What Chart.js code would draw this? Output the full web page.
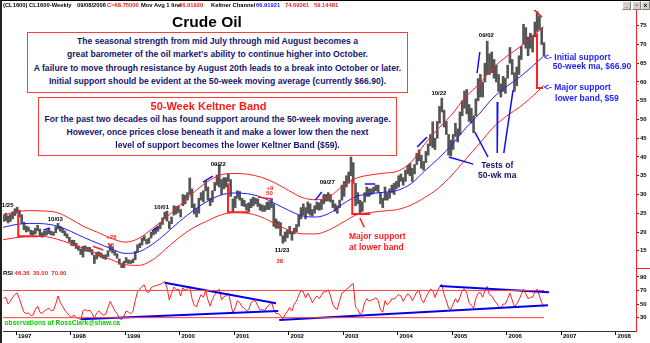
<!DOCTYPE html>
<html lang="en">
<head>
<meta charset="utf-8">
<title>Crude Oil</title>
<script src="https://cdn.jsdelivr.net/npm/chart.js@4.4.1/dist/chart.umd.min.js"></script>
<style>
  html, body { margin: 0; padding: 0; background: #fff; }
  #quadro { position: relative; width: 650px; height: 343px; overflow: hidden; background: #fff;
            font-family: 'Liberation Sans', Arial, sans-serif; font-weight: bold; }
  #grafico { position: absolute; left: 0; top: 0; }
  .abs { position: absolute; white-space: nowrap; }
  .cab { top: 1px; font-size: 5.8px; line-height: 9px; color: #000; }
  .verm { color: #ff1a1a; }
  .azul { color: #1a1aff; }
  #titulo { left: 0; width: 414px; top: 13px; text-align: center; font-size: 15.5px; line-height: 18px; color: #000; }
  .caixa { position: absolute; box-sizing: border-box; border: 1px solid #ff3c3c; background: #fff;
           text-align: center; color: #16166e; font-size: 8.6px; white-space: nowrap; }
  #caixa1 { left: 27px; top: 32px; width: 381px; height: 61px; padding-top: 2px; line-height: 13.4px; }
  #caixa2 { left: 38px; top: 97px; width: 359px; height: 59px; padding-top: 1px; line-height: 13px; }
  #caixa2 .tit { color: #ff1a1a; font-size: 11px; line-height: 14px; position: relative; left: -9px; }
  #caixa2 .ult { position: relative; left: 10px; }
  .borda-esq { left: 0; top: 0; width: 2px; height: 343px; background: #222; }
  .borda-topo { left: 0; top: 0; width: 650px; height: 1px; background: #000; }
  .botao { top: 1px; width: 7px; height: 7px; background: #d4d0c8; border: 1px solid;
           border-color: #fff #808080 #808080 #fff; font-size: 6px; line-height: 7px; text-align: center; color: #000; }
</style>
</head>
<body>
<div id="quadro">
  <canvas id="grafico" width="650" height="343"></canvas>

  <div class="abs borda-topo"></div>
  <div class="abs borda-esq"></div>

  <span class="abs cab" style="left:3px">(CL1600) CL1600-Weekly</span>
  <span class="abs cab" style="left:77px">09/08/2006</span>
  <span class="abs cab verm" style="left:107px">C=68.75000</span>
  <span class="abs cab" style="left:141px">Mov Avg 1 line</span>
  <span class="abs cab verm" style="left:179px">66.91920</span>
  <span class="abs cab" style="left:211px">Keltner Channel</span>
  <span class="abs cab azul" style="left:256px">66.91921</span>
  <span class="abs cab verm" style="left:285px">74.69361</span>
  <span class="abs cab verm" style="left:314px">59.14481</span>

  <div class="abs botao" style="left:622px">_</div>
  <div class="abs botao" style="left:632px">&#9643;</div>
  <div class="abs botao" style="left:641px">x</div>

  <div class="abs" id="titulo">Crude Oil</div>

  <div class="caixa" id="caixa1">
    <div>The seasonal strength from mid July through mid August becomes a</div>
    <div>great barometer of the oil market's ability to continue higher into October.</div>
    <div>A failure to move through resistance by August 20th leads to a break into October or later.</div>
    <div>Initial support should be evident at the 50-week moving average (currently $66.90).</div>
  </div>

  <div class="caixa" id="caixa2">
    <div class="tit">50-Week Keltner Band</div>
    <div>For the past two decades oil has found support around the 50-week moving average.</div>
    <div>However, once prices close beneath it and make a lower low then the next</div>
    <div class="ult">level of support becomes the lower Keltner Band ($59).</div>
  </div>
</div>

<script>
// Barras quinzenais (mínima / máxima), de out/1996 a set/2006, uma linha por ano
const precoMin = [
  22.8, 23.0, 22.4, 22.8, 23.5, 24.4,
  25.0, 24.0, 22.3, 20.6, 20.0, 20.2, 19.3, 19.2, 19.5, 20.3, 18.9, 18.6, 19.0, 19.2, 19.5, 19.2, 19.1, 19.8, 20.8, 20.2, 19.8, 19.0, 18.4, 17.3,
  16.4, 16.3, 15.6, 15.1, 14.0, 13.3, 14.9, 14.8, 14.7, 13.9, 11.6, 12.8, 13.5, 13.2, 12.9, 12.7, 13.5, 14.9, 14.4, 13.8, 13.0, 11.4, 10.5, 10.4,
  11.8, 11.6, 11.6, 11.8, 12.6, 14.6, 15.8, 16.5, 17.7, 16.8, 17.0, 18.4, 19.2, 19.6, 20.2, 20.9, 22.0, 23.5, 22.9, 20.9, 22.2, 24.5, 24.8, 25.2,
  24.0, 27.0, 27.5, 28.5, 30.0, 26.5, 24.8, 24.0, 25.0, 28.5, 28.0, 31.0, 28.5, 27.0, 28.0, 31.0, 32.5, 32.0, 30.0, 31.5, 32.0, 33.5, 29.5, 25.5,
  26.5, 29.0, 28.5, 27.0, 26.8, 25.8, 25.3, 26.5, 27.0, 27.5, 26.8, 25.8, 25.5, 25.5, 26.0, 26.0, 26.5, 21.5, 21.0, 21.0, 19.0, 17.0, 17.5, 18.5,
  19.5, 17.8, 19.5, 20.0, 21.5, 23.5, 24.5, 23.5, 25.0, 24.5, 24.2, 25.0, 26.0, 25.8, 26.0, 27.5, 28.2, 28.3, 28.0, 26.5, 25.5, 25.0, 26.5, 28.5,
  29.5, 32.0, 33.0, 35.0, 33.0, 27.0, 27.5, 25.0, 25.5, 28.0, 29.5, 29.5, 30.0, 30.5, 31.0, 30.5, 27.5, 26.5, 28.5, 28.5, 29.0, 30.5, 30.0, 31.5,
  32.0, 33.5, 32.5, 33.5, 35.5, 35.0, 33.5, 35.5, 38.0, 39.0, 37.0, 36.5, 38.5, 40.5, 43.0, 42.5, 42.0, 45.0, 49.0, 52.0, 48.0, 46.0, 40.5, 40.3,
  42.0, 45.5, 44.0, 46.0, 51.0, 53.0, 51.5, 49.5, 49.0, 46.5, 51.0, 55.0, 56.0, 56.0, 60.0, 62.0, 62.0, 62.5, 61.0, 60.0, 57.5, 56.0, 57.5, 57.0,
  61.0, 65.0, 62.0, 57.5, 59.0, 62.0, 66.0, 70.0, 69.0, 67.0, 69.0, 68.0, 72.0, 73.5, 74.0, 70.0, 67.0
];
const precoMax = [
  24.6, 25.0, 24.3, 24.7, 25.4, 26.2,
  26.6, 25.8, 24.6, 22.6, 21.6, 21.3, 20.5, 20.3, 21.0, 21.8, 20.8, 19.8, 20.2, 20.4, 20.8, 20.2, 20.0, 21.4, 22.3, 21.5, 21.0, 20.3, 19.5, 18.6,
  17.8, 17.8, 17.0, 16.3, 15.5, 16.2, 16.3, 15.9, 15.9, 15.3, 13.8, 14.6, 14.7, 14.4, 13.9, 13.9, 15.0, 16.6, 16.0, 14.9, 14.2, 12.8, 11.6, 12.2,
  13.2, 12.6, 12.4, 12.8, 14.8, 16.6, 17.0, 18.4, 19.0, 18.0, 18.4, 20.0, 20.5, 21.0, 21.6, 22.4, 23.8, 25.3, 25.6, 22.8, 24.0, 27.0, 26.8, 27.0,
  26.0, 30.0, 29.8, 30.5, 34.4, 31.5, 27.5, 26.3, 29.0, 30.5, 31.0, 33.5, 32.0, 29.0, 31.0, 33.2, 35.2, 37.9, 34.0, 34.5, 34.5, 35.5, 34.0, 28.8,
  29.5, 31.0, 30.8, 29.0, 28.5, 27.5, 27.8, 28.8, 29.3, 29.0, 28.8, 27.5, 27.2, 27.0, 28.0, 28.0, 29.0, 27.5, 23.5, 22.8, 22.5, 19.0, 20.0, 20.5,
  21.5, 20.0, 21.0, 22.0, 24.5, 26.5, 27.5, 26.5, 28.0, 27.5, 26.0, 27.0, 28.0, 27.8, 28.5, 30.0, 30.0, 30.5, 30.0, 28.5, 27.5, 27.0, 28.5, 32.5,
  33.5, 35.0, 36.0, 40.0, 38.5, 33.0, 30.5, 28.5, 28.0, 30.5, 32.0, 31.5, 31.5, 32.0, 32.5, 32.5, 30.5, 29.0, 32.0, 30.5, 31.5, 32.5, 33.0, 33.5,
  35.0, 35.5, 34.5, 36.5, 37.8, 38.3, 37.0, 38.0, 41.0, 41.9, 40.5, 38.8, 41.5, 43.5, 46.0, 49.4, 45.0, 49.5, 53.5, 55.7, 52.5, 49.5, 46.0, 44.5,
  46.0, 49.0, 47.5, 52.0, 55.0, 57.6, 58.0, 54.0, 53.0, 51.0, 55.5, 60.9, 62.0, 60.0, 65.0, 70.9, 67.5, 68.0, 66.0, 64.5, 62.0, 59.5, 61.5, 61.0,
  64.5, 69.2, 66.0, 62.5, 64.0, 67.0, 69.5, 75.4, 74.5, 72.0, 73.0, 72.5, 76.0, 78.8, 77.5, 74.5, 70.5
];
const rsiQuinzena = [
  58, 60, 50, 54, 60, 64,
  66, 58, 47, 38, 36, 37, 33, 34, 42, 47, 38, 36, 40, 42, 44, 40, 41, 50, 62, 52, 47, 41, 37, 33,
  31, 34, 30, 29, 27, 40, 42, 40, 41, 36, 29, 37, 40, 36, 34, 35, 45, 54, 47, 40, 36, 29, 27, 32,
  40, 38, 36, 39, 55, 68, 72, 76, 78, 68, 67, 74, 76, 77, 78, 79, 81, 83, 74, 56, 66, 75, 71, 72,
  62, 74, 70, 72, 76, 58, 48, 46, 56, 64, 60, 70, 56, 47, 57, 64, 68, 72, 56, 61, 62, 66, 52, 37,
  44, 55, 52, 46, 44, 40, 42, 52, 55, 54, 47, 41, 42, 40, 46, 48, 53, 42, 36, 36, 33, 28, 35, 39,
  45, 40, 50, 54, 63, 70, 68, 59, 66, 60, 52, 58, 62, 58, 63, 68, 68, 71, 62, 50, 44, 42, 55, 66,
  68, 72, 74, 78, 80, 46, 42, 35, 38, 52, 58, 54, 56, 57, 59, 55, 42, 38, 55, 49, 52, 58, 57, 61,
  64, 62, 54, 60, 65, 62, 55, 61, 68, 70, 57, 52, 60, 66, 72, 70, 60, 68, 76, 79, 64, 55, 44, 42,
  50, 58, 52, 60, 70, 72, 66, 52, 48, 44, 58, 66, 67, 60, 70, 76, 64, 62, 56, 52, 47, 44, 50, 50,
  58, 66, 56, 46, 50, 56, 64, 72, 65, 58, 60, 60, 68, 72, 62, 52, 46
];

// Média de 50 semanas e bandas de Keltner, lidas por trimestre
const datasTrimestre = [
  1996.75, 1997.0, 1997.25, 1997.5, 1997.75, 1998.0, 1998.25, 1998.5, 1998.75, 1999.0, 1999.25, 1999.5, 1999.75,
  2000.0, 2000.25, 2000.5, 2000.75, 2001.0, 2001.25, 2001.5, 2001.75, 2002.0, 2002.25, 2002.5, 2002.75,
  2003.0, 2003.25, 2003.5, 2003.75, 2004.0, 2004.25, 2004.5, 2004.75, 2005.0, 2005.25, 2005.5, 2005.75,
  2006.0, 2006.25, 2006.5, 2006.68
];
const media50 = [
  21.2, 22.0, 22.3, 22.2, 21.6, 20.2, 18.5, 17.0, 15.5, 14.3, 14.7, 16.7, 19.6,
  22.8, 25.7, 28.1, 29.8, 30.4, 30.2, 29.3, 27.6, 25.8, 24.3, 24.0, 25.0,
  27.5, 29.5, 30.2, 30.6, 31.1, 32.9, 36.3, 39.6, 43.3, 47.7, 51.5, 55.7,
  58.8, 61.4, 64.5, 66.9
];
const bandaSup = [
  24.4, 25.4, 25.7, 25.6, 25.2, 23.5, 21.4, 19.9, 18.3, 17.3, 18.3, 20.9, 23.8,
  27.1, 30.4, 33.3, 35.2, 35.6, 35.4, 34.6, 33.1, 31.1, 29.2, 28.6, 29.4,
  32.4, 34.4, 35.2, 35.7, 36.2, 38.6, 43.5, 47.6, 51.4, 56.0, 59.5, 63.7,
  66.8, 69.4, 72.5, 74.7
];
const bandaInf = [
  17.9, 18.5, 18.8, 18.8, 18.1, 16.9, 15.6, 14.1, 12.6, 11.3, 11.1, 12.5, 15.5,
  18.6, 21.1, 22.9, 24.5, 25.2, 25.0, 24.0, 22.2, 20.5, 19.5, 19.5, 20.6,
  22.6, 24.6, 25.2, 25.6, 26.0, 27.2, 29.2, 31.7, 35.2, 39.4, 43.5, 47.8,
  50.9, 53.4, 56.5, 59.1
];

const anos = [1997, 1998, 1999, 2000, 2001, 2002, 2003, 2004, 2005, 2006, 2007, 2008];
const ticksPreco = [15, 20, 25, 30, 35, 40, 45, 50, 55, 60, 65, 70, 75];
const ticksRsi = [30, 50, 70, 90];
const niveisRsi = [70, 30];

// Marcações feitas à mão sobre o gráfico (data, valor)
const colchetes = [
  [[1997.04, 24.8], [1997.04, 18.9], [1997.40, 18.9]],
  [[2000.89, 33.0], [2000.89, 25.3], [2001.26, 25.3]],
  [[2003.17, 34.1], [2003.17, 24.8], [2003.50, 24.8]],
  [[2006.56, 73.0], [2006.56, 58.4], [2006.67, 58.4]]
];
const tracosVermelhos = [
  [[2006.49, 79.5], [2006.65, 77.3]],
  [[1998.41, 16.2], [1998.60, 15.2]],
  [[2001.44, 29.3], [2001.70, 28.8]],
  [[2003.31, 23.7], [2003.39, 21.3]]
];
const tracosAzuis = [
  [[1997.50, 20.5], [1997.62, 21.05]],
  [[1999.50, 20.25], [1999.59, 21.3]],
  [[2000.43, 33.3], [2000.61, 34.9]],
  [[2002.49, 28.5], [2002.61, 30.65]],
  [[2003.40, 32.8], [2003.59, 32.8]],
  [[2004.36, 42.65], [2004.54, 45.3]],
  [[2005.46, 62.4], [2005.51, 68.0]],
  [[2004.94, 40.0], [2005.39, 38.1]],
  [[2005.42, 46.65], [2005.66, 40.0]],
  [[2005.84, 54.65], [2005.83, 41.05]],
  [[2006.12, 57.85], [2005.95, 41.05]]
];
const linhasRsi = [
  [[1999.73, 81.4], [2001.77, 51.1]],
  [[1998.19, 27.6], [2001.81, 39.8]],
  [[2001.83, 26.6], [2006.76, 48.2]],
  [[2004.78, 76.6], [2006.78, 67.3]]
];

const vermelho = '#ff2020';
const azul = '#1e1eff';
const azulEscuro = '#16166e';
const verde = '#00d200';
const fonte = "'Liberation Sans', Arial, sans-serif";

const rotulos = [
  { texto: '1/25', t: 1996.74, v: 27.2, alinhar: 'left' },
  { texto: '10/03', t: 1997.72, v: 23.45 },
  { texto: '+26', t: 1998.75, v: 18.6, cor: vermelho },
  { texto: '56', t: 1998.74, v: 16.5, cor: vermelho },
  { texto: '10/01', t: 1999.67, v: 26.6 },
  { texto: '09/22', t: 2000.71, v: 38.1 },
  { texto: '+9', t: 2001.66, v: 31.6, cor: vermelho },
  { texto: '50', t: 2001.65, v: 30.2, cor: vermelho },
  { texto: '11/23', t: 2001.88, v: 15.0 },
  { texto: '28', t: 2001.84, v: 12.1, cor: vermelho },
  { texto: '09/27', t: 2002.71, v: 33.2 },
  { texto: '10/22', t: 2004.76, v: 57.1 },
  { texto: '09/02', t: 2005.63, v: 72.5 },
  { texto: 'Major support', t: 2003.11, v: 18.65, cor: vermelho, tam: 8.5, alinhar: 'left' },
  { texto: 'at lower band', t: 2003.11, v: 15.85, cor: vermelho, tam: 8.5, alinhar: 'left' },
  { texto: 'Tests of', t: 2005.83, v: 37.6, cor: azulEscuro, tam: 8.5 },
  { texto: '50-wk ma', t: 2005.83, v: 34.9, cor: azulEscuro, tam: 8.5 },
  { texto: '<- Initial support', t: 2006.69, v: 66.5, cor: azul, tam: 8.5, alinhar: 'left' },
  { texto: '50-week ma, $66.90', t: 2006.85, v: 64.2, cor: azul, tam: 8.5, alinhar: 'left' },
  { texto: '<- Major support', t: 2006.69, v: 58.5, cor: azul, tam: 8.5, alinhar: 'left' },
  { texto: 'lower band, $59', t: 2006.89, v: 55.45, cor: azul, tam: 8.5, alinhar: 'left' },
  { partes: [['RSI ', '#000'], ['46.36  30.00  70.00', vermelho]], t: 1996.76, v: 95.3, eixo: 'yr', alinhar: 'left', tam: 6 },
  { texto: 'observations of RossClark@shaw.ca', t: 1996.79, v: 22.2, eixo: 'yr', cor: verde, tam: 6.6, alinhar: 'left' }
];

// Cada quinzena fica no meio do seu intervalo de meio mês
const inicio = 1996.75;
const datasQuinzena = precoMin.map((_, i) => inicio + (i + 0.5) / 24);

function serie(datas, valores) {
  return valores.map((v, i) => ({ x: datas[i], y: v }));
}

function linha(pontos, cor, largura, eixo) {
  return {
    type: 'line',
    data: pontos.map(p => ({ x: p[0], y: p[1] })),
    borderColor: cor,
    borderWidth: largura,
    pointRadius: 0,
    tension: 0,
    yAxisID: eixo || 'y',
    order: 1,
  };
}

const fimRsi = datasQuinzena[datasQuinzena.length - 1];

const datasets = [
  {
    type: 'bar',
    data: datasQuinzena.map((x, i) => ({ x, y: [precoMin[i], precoMax[i]] })),
    backgroundColor: '#555555',
    barThickness: 2,
    yAxisID: 'y',
    order: 10,
  },
  { type: 'line', data: serie(datasTrimestre, media50), borderColor: azul, borderWidth: 1, pointRadius: 0, cubicInterpolationMode: 'monotone', yAxisID: 'y', order: 2 },
  { type: 'line', data: serie(datasTrimestre, bandaSup), borderColor: vermelho, borderWidth: 1, pointRadius: 0, cubicInterpolationMode: 'monotone', yAxisID: 'y', order: 2 },
  { type: 'line', data: serie(datasTrimestre, bandaInf), borderColor: vermelho, borderWidth: 1, pointRadius: 0, cubicInterpolationMode: 'monotone', yAxisID: 'y', order: 2 },
  ...niveisRsi.map(n => linha([[inicio, n], [fimRsi, n]], '#ff4040', 1, 'yr')),
  { type: 'line', data: serie(datasQuinzena, rsiQuinzena), borderColor: vermelho, borderWidth: 1, pointRadius: 0, tension: 0, yAxisID: 'yr', order: 2 },
  ...linhasRsi.map(p => linha(p, '#0000ee', 2, 'yr')),
  ...colchetes.map(p => linha(p, vermelho, 2)),
  ...tracosVermelhos.map(p => linha(p, vermelho, 1.5)),
  ...tracosAzuis.map(p => linha(p, '#1010ee', 1.5)),
];

// Textos presos aos eixos e o separador dos painéis no eixo direito
const anotacoes = {
  id: 'anotacoes',
  afterDatasetsDraw(chart) {
    const { ctx, scales } = chart;
    ctx.save();
    ctx.textBaseline = 'middle';
    rotulos.forEach(r => {
      const eixo = scales[r.eixo || 'y'];
      let px = scales.x.getPixelForValue(r.t);
      const py = eixo.getPixelForValue(r.v);
      ctx.font = `bold ${r.tam || 6}px ${fonte}`;
      ctx.textAlign = r.alinhar || 'center';
      if (r.partes) {
        r.partes.forEach(([txt, cor]) => {
          ctx.fillStyle = cor;
          ctx.fillText(txt, px, py);
          px += ctx.measureText(txt).width;
        });
      } else {
        ctx.fillStyle = r.cor || '#000';
        ctx.fillText(r.texto, px, py);
      }
    });
    const yr = scales.yr;
    ctx.strokeStyle = vermelho;
    ctx.lineWidth = 1;
    ctx.beginPath();
    ctx.moveTo(yr.left, Math.round(yr.top) + 0.5);
    ctx.lineTo(chart.width, Math.round(yr.top) + 0.5);
    ctx.stroke();
    ctx.restore();
  }
};

const fonteEixo = { family: fonte, size: 6, weight: 'bold' };

const eixoDireito = (ticks, extra) => Object.assign({
  position: 'right',
  stack: 'paineis',
  afterBuildTicks: s => { s.ticks = ticks.map(v => ({ value: v })); },
  afterFit: s => { s.width = 14; },
  grid: { drawOnChartArea: false, drawTicks: true, tickLength: 3, color: '#cc0000' },
  border: { color: vermelho, width: 1 },
  ticks: { font: fonteEixo, color: '#000', padding: 1 },
}, extra);

new Chart(document.getElementById('grafico'), {
  type: 'bar',
  data: { datasets },
  plugins: [anotacoes],
  options: {
    responsive: false,
    animation: false,
    devicePixelRatio: 1,
    events: [],
    layout: { padding: { left: 3, top: 10, right: 0, bottom: 0 } },
    plugins: { legend: { display: false }, tooltip: { enabled: false } },
    scales: {
      x: {
        type: 'linear',
        min: 1996.761,
        max: 2008.376,
        offset: false,
        afterBuildTicks: s => { s.ticks = anos.map(v => ({ value: v })); },
        afterFit: s => { s.height = 12; },
        grid: { drawOnChartArea: false, drawTicks: true, tickLength: 4, color: '#000', offset: false },
        border: { color: '#333', width: 1 },
        ticks: {
          font: fonteEixo, color: '#000', align: 'start', labelOffset: 2, padding: -2,
          maxRotation: 0, autoSkip: false, callback: v => String(v),
        },
      },
      y: eixoDireito(ticksPreco, { min: 10.4, max: 79.2, stackWeight: 258 }),
      yr: eixoDireito(ticksRsi, { min: 10.4, max: 103, stackWeight: 63 }),
    },
  },
});
</script>
</body>
</html>
